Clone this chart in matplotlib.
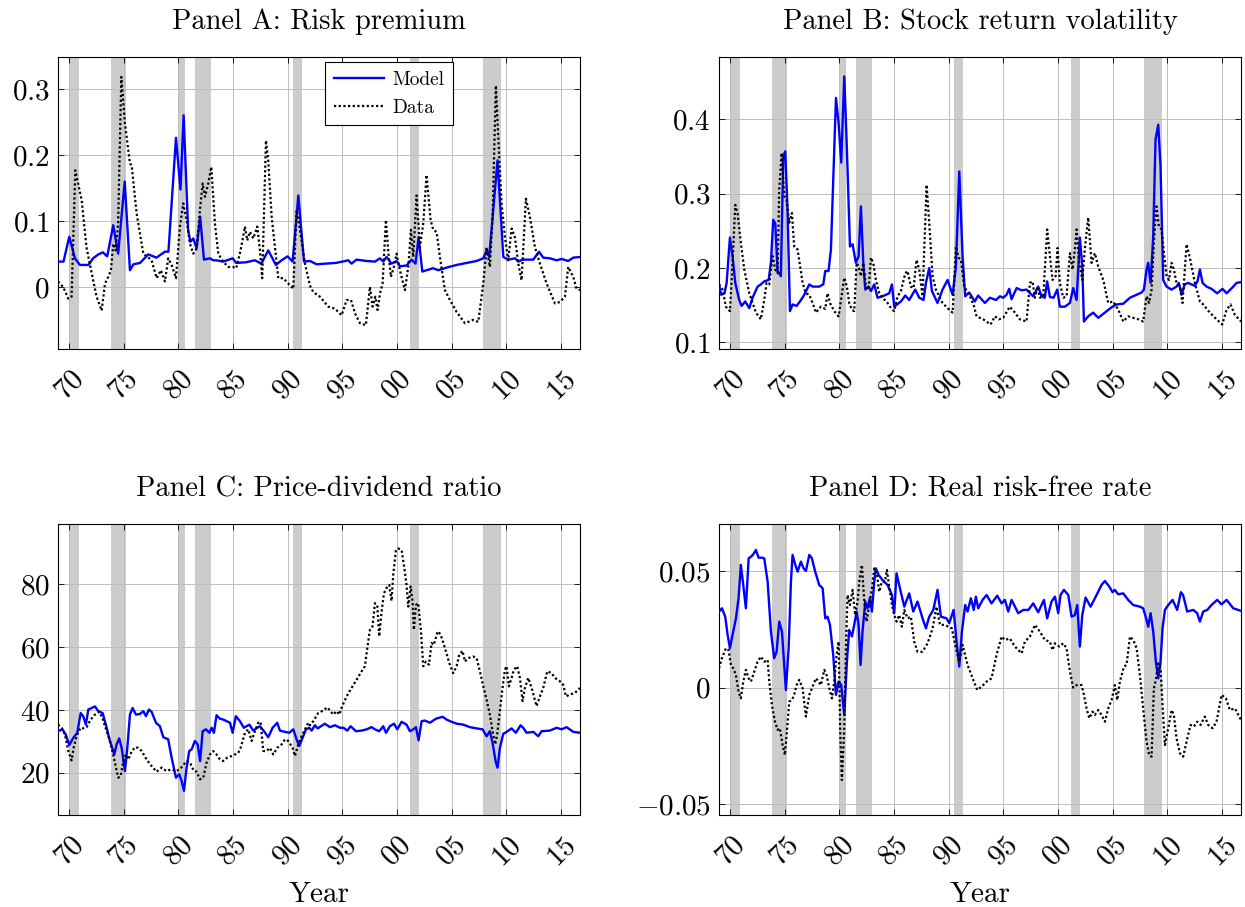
import numpy as np
import matplotlib
matplotlib.use("Agg")
import matplotlib.pyplot as plt

plt.rcParams['font.family'] = 'cmr10'
plt.rcParams['mathtext.fontset'] = 'cm'
plt.rcParams['axes.formatter.use_mathtext'] = True

# NBER recession periods (start, end)
recessions = [(1970.0, 1970.9), (1973.85, 1975.25), (1980.0, 1980.6),
              (1981.5, 1983.0), (1990.5, 1991.3), (2001.2, 2002.0),
              (2007.9, 2009.5)]

year_ticks = [1970, 1975, 1980, 1985, 1990, 1995, 2000, 2005, 2010, 2015]
year_labels = ['70', '75', '80', '85', '90', '95', '00', '05', '10', '15']

# Panel A: risk premium
rp_model = [(1969.0, 0.039), (1969.5, 0.039), (1970.03, 0.0765), (1970.55, 0.044), (1971.0, 0.034),
            (1971.8, 0.034), (1972.2, 0.044), (1972.7, 0.050), (1973.1, 0.053), (1973.5, 0.047),
            (1974.05, 0.094), (1974.5, 0.051), (1975.1, 0.160), (1975.58, 0.026), (1975.9, 0.035),
            (1976.5, 0.037), (1977.26, 0.050), (1978.0, 0.045), (1978.78, 0.054), (1979.1, 0.054),
            (1979.79, 0.226), (1980.2, 0.148), (1980.49, 0.260), (1980.9, 0.087), (1981.1, 0.069),
            (1981.37, 0.074), (1981.68, 0.059), (1982.0, 0.107), (1982.35, 0.042), (1982.9, 0.044),
            (1983.2, 0.041), (1983.5, 0.041), (1984.1, 0.039), (1984.97, 0.044), (1985.3, 0.037),
            (1986.2, 0.038), (1987.0, 0.041), (1987.6, 0.036), (1988.23, 0.056), (1988.93, 0.034),
            (1989.45, 0.041), (1990.0, 0.047), (1990.46, 0.039), (1990.98, 0.139), (1991.5, 0.039),
            (1992.04, 0.040), (1992.65, 0.035), (1993.5, 0.036), (1994.4, 0.037), (1995.0, 0.039),
            (1995.55, 0.041), (1995.85, 0.036), (1996.3, 0.042), (1997.2, 0.040), (1998.0, 0.039),
            (1998.45, 0.044), (1998.75, 0.039), (1999.05, 0.046), (1999.5, 0.036), (1999.97, 0.040),
            (2000.27, 0.032), (2000.88, 0.033), (2001.34, 0.042), (2001.7, 0.036), (2001.98, 0.076),
            (2002.32, 0.024), (2002.7, 0.026), (2003.3, 0.029), (2003.8, 0.026), (2004.55, 0.030),
            (2005.46, 0.034), (2006.37, 0.037), (2007.29, 0.040), (2007.9, 0.044), (2008.2, 0.056),
            (2008.44, 0.046), (2009.2, 0.192), (2009.73, 0.046), (2010.18, 0.042), (2010.8, 0.044),
            (2011.1, 0.039), (2011.5, 0.042), (2012.47, 0.042), (2013.0, 0.054), (2013.38, 0.045),
            (2014.0, 0.044), (2014.6, 0.041), (2015.06, 0.043), (2015.67, 0.040), (2016.13, 0.045),
            (2016.75, 0.046)]
rp_data = [(1969.0, 0.009), (1969.5, 0.0), (1969.94, -0.017), (1970.24, -0.014), (1970.58, 0.177),
           (1971.16, 0.132), (1971.6, 0.061), (1971.9, 0.036), (1972.53, -0.014), (1972.99, -0.035),
           (1973.3, 0.006), (1973.6, 0.016), (1973.84, 0.026), (1974.05, 0.066), (1974.27, 0.056),
           (1974.5, 0.097), (1974.79, 0.318), (1975.12, 0.248), (1975.58, 0.187), (1975.73, 0.185),
           (1976.19, 0.112), (1976.8, 0.051), (1977.35, 0.044), (1977.56, 0.041), (1978.02, 0.014),
           (1978.41, 0.026), (1978.78, 0.009), (1979.08, 0.044), (1979.39, 0.034), (1979.79, 0.014),
           (1980.15, 0.092), (1980.46, 0.127), (1980.76, 0.102), (1981.07, 0.066), (1981.37, 0.051),
           (1981.68, 0.059), (1981.98, 0.117), (1982.23, 0.157), (1982.44, 0.137), (1982.74, 0.157),
           (1983.02, 0.182), (1983.35, 0.097), (1983.66, 0.051), (1984.1, 0.039), (1984.57, 0.031),
           (1984.97, 0.031), (1985.3, 0.029), (1985.7, 0.056), (1986.1, 0.092), (1986.31, 0.071),
           (1986.55, 0.084), (1986.86, 0.074), (1987.23, 0.092), (1987.47, 0.056), (1987.68, 0.014),
           (1988.02, 0.222), (1988.23, 0.192), (1988.54, 0.107), (1989.15, 0.014), (1989.6, 0.014),
           (1990.06, 0.006), (1990.52, -0.002), (1990.82, 0.117), (1991.13, 0.087), (1991.59, 0.036),
           (1992.04, 0.003), (1992.35, -0.007), (1992.96, -0.014), (1993.72, -0.029), (1994.33, -0.032),
           (1994.94, -0.042), (1995.4, -0.019), (1995.8, -0.019), (1996.16, -0.039), (1996.62, -0.054),
           (1997.16, -0.057), (1997.53, 0.001), (1997.77, -0.029), (1998.02, -0.014), (1998.23, -0.034),
           (1998.45, -0.009), (1998.69, 0.006), (1998.99, 0.102), (1999.2, 0.056), (1999.45, 0.016),
           (1999.72, 0.031), (1999.97, 0.051), (2000.27, 0.026), (2000.73, -0.004), (2001.04, 0.031),
           (2001.28, 0.087), (2001.49, 0.046), (2001.8, 0.139), (2002.1, 0.061), (2002.41, 0.097),
           (2002.71, 0.170), (2003.08, 0.102), (2003.32, 0.087), (2003.63, 0.084), (2003.93, 0.046),
           (2004.39, -0.004), (2004.85, -0.019), (2005.46, -0.037), (2006.22, -0.054), (2006.98, -0.049),
           (2007.44, -0.052), (2007.9, 0.006), (2008.2, 0.061), (2008.5, 0.031), (2008.75, 0.107),
           (2009.05, 0.305), (2009.27, 0.227), (2009.57, 0.127), (2009.88, 0.076), (2010.18, 0.041),
           (2010.49, 0.089), (2010.79, 0.076), (2011.1, 0.036), (2011.4, 0.011), (2011.8, 0.134),
           (2012.16, 0.107), (2012.62, 0.061), (2013.08, 0.036), (2013.69, 0.006), (2014.45, -0.024),
           (2014.91, -0.022), (2015.37, -0.014), (2015.67, 0.031), (2016.13, 0.016), (2016.43, -0.002),
           (2016.75, -0.004)]

# Panel B: stock return volatility
vol_model = [(1969.0, 0.178), (1969.2, 0.164), (1969.5, 0.166), (1969.7, 0.180), (1970.0, 0.241),
             (1970.24, 0.216), (1970.49, 0.180), (1970.85, 0.157), (1971.07, 0.149), (1971.4, 0.155),
             (1971.77, 0.146), (1972.07, 0.160), (1972.53, 0.175), (1972.83, 0.178), (1973.14, 0.182),
             (1973.54, 0.184), (1973.75, 0.207), (1973.96, 0.265), (1974.15, 0.260), (1974.36, 0.196),
             (1974.66, 0.189), (1974.88, 0.351), (1975.06, 0.357), (1975.27, 0.279), (1975.49, 0.142),
             (1975.73, 0.151), (1976.1, 0.149), (1976.5, 0.157), (1976.8, 0.164), (1977.26, 0.178),
             (1977.56, 0.175), (1978.17, 0.175), (1978.54, 0.178), (1978.72, 0.196), (1979.02, 0.196),
             (1979.24, 0.225), (1979.7, 0.429), (1979.94, 0.395), (1980.18, 0.342), (1980.46, 0.458),
             (1980.7, 0.360), (1980.98, 0.229), (1981.22, 0.232), (1981.52, 0.207), (1981.77, 0.216),
             (1981.98, 0.283), (1982.2, 0.207), (1982.38, 0.171), (1982.68, 0.175), (1982.9, 0.169),
             (1983.2, 0.178), (1983.5, 0.160), (1983.96, 0.162), (1984.57, 0.166), (1984.82, 0.178),
             (1985.03, 0.148), (1985.64, 0.155), (1986.04, 0.163), (1986.4, 0.157), (1986.95, 0.171),
             (1987.32, 0.160), (1987.71, 0.157), (1987.93, 0.180), (1988.23, 0.200), (1988.48, 0.169),
             (1988.99, 0.153), (1989.45, 0.171), (1989.91, 0.184), (1990.37, 0.164), (1990.67, 0.202),
             (1990.98, 0.330), (1991.28, 0.216), (1991.52, 0.162), (1991.89, 0.167), (1992.4, 0.155),
             (1992.7, 0.163), (1993.32, 0.153), (1993.78, 0.160), (1994.33, 0.157), (1994.7, 0.162),
             (1995.0, 0.160), (1995.3, 0.164), (1995.55, 0.172), (1995.76, 0.158), (1996.22, 0.173),
             (1996.68, 0.170), (1997.13, 0.171), (1997.74, 0.162), (1998.2, 0.175), (1998.5, 0.162),
             (1998.8, 0.160), (1999.02, 0.182), (1999.27, 0.161), (1999.6, 0.160), (1999.94, 0.171),
             (2000.18, 0.148), (2000.64, 0.148), (2001.1, 0.153), (2001.4, 0.173), (2001.71, 0.157),
             (2002.01, 0.241), (2002.23, 0.202), (2002.38, 0.128), (2002.77, 0.135), (2003.23, 0.140),
             (2003.69, 0.133), (2004.3, 0.140), (2004.9, 0.147), (2005.37, 0.151), (2005.98, 0.152),
             (2006.59, 0.160), (2007.2, 0.164), (2007.65, 0.167), (2007.87, 0.171), (2008.11, 0.198),
             (2008.26, 0.207), (2008.48, 0.180), (2008.72, 0.243), (2008.93, 0.373), (2009.18, 0.393),
             (2009.39, 0.337), (2009.63, 0.184), (2009.94, 0.175), (2010.4, 0.171), (2010.85, 0.175),
             (2011.07, 0.180), (2011.31, 0.164), (2011.6, 0.178), (2011.9, 0.180), (2012.53, 0.176),
             (2012.77, 0.182), (2012.99, 0.198), (2013.23, 0.180), (2013.6, 0.175), (2014.05, 0.172),
             (2014.57, 0.166), (2015.06, 0.172), (2015.43, 0.166), (2016.04, 0.175), (2016.34, 0.180),
             (2016.75, 0.181)]
vol_data = [(1969.0, 0.178), (1969.33, 0.171), (1969.63, 0.148), (1970.0, 0.142), (1970.24, 0.207),
            (1970.49, 0.285), (1970.7, 0.274), (1971.0, 0.234), (1971.31, 0.198), (1971.77, 0.166),
            (1972.38, 0.140), (1972.83, 0.131), (1973.14, 0.157), (1973.35, 0.180), (1973.6, 0.178),
            (1973.9, 0.216), (1974.15, 0.198), (1974.36, 0.193), (1974.51, 0.306), (1974.73, 0.355),
            (1974.97, 0.297), (1975.18, 0.292), (1975.43, 0.261), (1975.67, 0.274), (1975.88, 0.229),
            (1976.19, 0.225), (1976.65, 0.180), (1976.95, 0.166), (1977.26, 0.164), (1977.56, 0.153),
            (1977.87, 0.140), (1978.32, 0.148), (1978.72, 0.145), (1978.93, 0.166), (1979.15, 0.153),
            (1979.54, 0.142), (1979.94, 0.135), (1980.21, 0.162), (1980.46, 0.187), (1980.7, 0.175),
            (1980.91, 0.153), (1981.16, 0.144), (1981.37, 0.142), (1981.59, 0.207), (1981.77, 0.202),
            (1981.98, 0.189), (1982.2, 0.207), (1982.44, 0.175), (1982.68, 0.171), (1982.9, 0.214),
            (1983.11, 0.207), (1983.35, 0.184), (1983.66, 0.166), (1983.96, 0.160), (1984.42, 0.153),
            (1984.73, 0.146), (1985.03, 0.142), (1985.34, 0.162), (1985.64, 0.169), (1986.04, 0.193),
            (1986.25, 0.196), (1986.55, 0.175), (1986.8, 0.173), (1987.07, 0.211), (1987.32, 0.198),
            (1987.62, 0.162), (1987.99, 0.312), (1988.23, 0.261), (1988.54, 0.189), (1988.84, 0.171),
            (1989.45, 0.153), (1989.91, 0.146), (1990.37, 0.140), (1990.67, 0.229), (1990.91, 0.214),
            (1991.13, 0.211), (1991.43, 0.175), (1991.89, 0.164), (1992.3, 0.150), (1992.56, 0.135),
            (1993.17, 0.131), (1993.84, 0.124), (1994.24, 0.135), (1994.6, 0.131), (1995.0, 0.133),
            (1995.6, 0.148), (1996.07, 0.140), (1996.52, 0.131), (1997.13, 0.128), (1997.44, 0.180),
            (1997.68, 0.182), (1997.9, 0.160), (1998.14, 0.175), (1998.35, 0.160), (1998.66, 0.162),
            (1999.02, 0.252), (1999.27, 0.216), (1999.51, 0.184), (1999.79, 0.189), (1999.97, 0.227),
            (2000.18, 0.180), (2000.49, 0.160), (2000.79, 0.162), (2001.1, 0.220), (2001.34, 0.198),
            (2001.55, 0.225), (2001.71, 0.252), (2001.95, 0.207), (2002.23, 0.184), (2002.47, 0.227),
            (2002.77, 0.268), (2003.08, 0.207), (2003.38, 0.220), (2003.69, 0.202), (2004.15, 0.184),
            (2004.6, 0.153), (2005.06, 0.155), (2005.52, 0.144), (2005.98, 0.128), (2006.43, 0.135),
            (2006.89, 0.133), (2007.35, 0.131), (2007.8, 0.128), (2008.11, 0.162), (2008.33, 0.153),
            (2008.57, 0.171), (2008.81, 0.243), (2009.02, 0.283), (2009.24, 0.256), (2009.48, 0.252),
            (2009.73, 0.216), (2009.94, 0.189), (2010.16, 0.184), (2010.4, 0.207), (2010.61, 0.198),
            (2010.85, 0.180), (2011.16, 0.175), (2011.4, 0.153), (2011.77, 0.232), (2012.07, 0.214),
            (2012.53, 0.180), (2012.99, 0.155), (2013.29, 0.151), (2013.9, 0.140), (2014.51, 0.131),
            (2015.03, 0.124), (2015.43, 0.144), (2015.79, 0.151), (2016.19, 0.137), (2016.75, 0.128)]

# Panel C: price-dividend ratio
pd_model = [(1969.0, 33.2), (1969.4, 33.8), (1969.7, 32.2), (1970.03, 28.8), (1970.4, 31.1),
            (1970.76, 32.7), (1971.07, 39.0), (1971.3, 38.0), (1971.55, 35.3), (1971.77, 40.1),
            (1972.07, 40.6), (1972.38, 41.1), (1972.68, 39.6), (1973.08, 39.0), (1973.45, 34.3),
            (1973.75, 30.1), (1974.15, 25.8), (1974.36, 29.0), (1974.6, 30.9), (1974.82, 27.9),
            (1975.12, 20.5), (1975.34, 27.9), (1975.58, 38.5), (1975.82, 40.6), (1976.13, 38.5),
            (1976.5, 38.7), (1976.8, 39.6), (1977.04, 38.0), (1977.32, 40.1), (1977.56, 39.4),
            (1977.96, 35.9), (1978.32, 34.8), (1978.63, 31.3), (1979.08, 30.6), (1979.39, 24.8),
            (1979.79, 18.4), (1980.09, 19.5), (1980.3, 17.4), (1980.52, 14.2), (1980.76, 21.6),
            (1981.0, 26.9), (1981.22, 27.4), (1981.52, 30.1), (1981.77, 29.0), (1982.0, 23.7),
            (1982.23, 33.2), (1982.53, 33.8), (1982.84, 32.7), (1983.05, 34.3), (1983.26, 32.7),
            (1983.5, 38.3), (1983.81, 37.2), (1984.12, 36.9), (1984.42, 36.4), (1984.73, 35.9),
            (1984.97, 32.7), (1985.27, 38.0), (1985.64, 36.4), (1986.0, 34.3), (1986.5, 35.3),
            (1986.86, 33.4), (1987.23, 34.3), (1987.47, 34.8), (1987.84, 33.2), (1988.23, 31.3),
            (1988.63, 34.3), (1989.05, 35.9), (1989.3, 33.4), (1989.76, 33.0), (1990.15, 32.7),
            (1990.52, 33.8), (1990.82, 30.6), (1991.07, 28.5), (1991.37, 31.1), (1991.68, 33.8),
            (1991.98, 34.3), (1992.2, 33.4), (1992.5, 35.1), (1992.75, 34.1), (1993.41, 35.6),
            (1993.87, 34.5), (1994.33, 35.1), (1994.79, 34.3), (1995.1, 34.3), (1995.46, 33.4),
            (1995.76, 34.8), (1996.25, 33.2), (1996.77, 33.4), (1997.23, 33.8), (1997.68, 34.5),
            (1997.99, 33.8), (1998.38, 33.2), (1998.75, 34.8), (1999.0, 32.7), (1999.36, 34.8),
            (1999.73, 35.6), (2000.03, 33.8), (2000.43, 36.2), (2000.88, 35.3), (2001.19, 33.2),
            (2001.5, 33.8), (2001.74, 34.5), (2001.98, 30.3), (2002.26, 36.4), (2002.56, 36.6),
            (2003.02, 35.9), (2003.57, 37.2), (2004.18, 37.8), (2004.54, 36.9), (2005.0, 36.2),
            (2005.46, 35.6), (2006.07, 35.3), (2006.68, 34.5), (2007.29, 34.1), (2007.84, 33.8),
            (2008.2, 31.6), (2008.5, 33.2), (2008.75, 29.5), (2009.02, 23.7), (2009.2, 21.6),
            (2009.42, 27.9), (2009.73, 32.4), (2010.03, 33.0), (2010.49, 34.1), (2010.88, 32.7),
            (2011.31, 35.1), (2011.55, 34.3), (2011.86, 32.7), (2012.47, 33.0), (2012.93, 31.6),
            (2013.23, 33.2), (2013.99, 33.4), (2014.6, 34.3), (2015.06, 33.8), (2015.52, 34.5),
            (2016.13, 33.0), (2016.75, 32.7)]
pd_data = [(1969.0, 35.3), (1969.33, 34.3), (1969.63, 32.2), (1969.94, 26.9), (1970.24, 23.9),
           (1970.46, 28.5), (1970.76, 32.2), (1971.07, 34.3), (1971.3, 34.1), (1971.62, 34.5),
           (1971.98, 36.9), (1972.38, 38.5), (1972.77, 39.4), (1973.08, 37.2), (1973.45, 33.2),
           (1973.75, 30.1), (1974.05, 25.8), (1974.3, 21.6), (1974.51, 18.4), (1974.73, 18.9),
           (1974.97, 23.7), (1975.21, 25.8), (1975.43, 24.2), (1975.73, 26.7), (1976.04, 28.1),
           (1976.34, 27.9), (1976.65, 26.9), (1977.1, 24.2), (1977.56, 22.1), (1978.02, 20.3),
           (1978.48, 21.6), (1978.93, 20.5), (1979.39, 21.1), (1979.79, 20.5), (1980.15, 21.1),
           (1980.46, 22.4), (1980.76, 23.7), (1981.07, 23.2), (1981.43, 20.5), (1981.68, 20.3),
           (1981.98, 17.9), (1982.29, 18.4), (1982.59, 23.2), (1982.9, 25.8), (1983.2, 26.9),
           (1983.5, 25.8), (1983.81, 24.2), (1984.12, 23.7), (1984.48, 24.8), (1984.88, 25.3),
           (1985.18, 25.8), (1985.49, 26.3), (1985.7, 27.9), (1986.1, 32.7), (1986.4, 33.8),
           (1986.71, 30.1), (1987.01, 33.2), (1987.32, 35.9), (1987.53, 36.2), (1987.77, 26.9),
           (1988.08, 26.9), (1988.38, 27.9), (1988.69, 25.8), (1989.05, 27.9), (1989.45, 29.0),
           (1989.76, 30.6), (1990.06, 30.1), (1990.46, 27.9), (1990.67, 25.3), (1990.98, 29.0),
           (1991.28, 31.6), (1991.59, 33.8), (1991.89, 35.9), (1992.04, 35.1), (1992.35, 36.4),
           (1992.8, 39.0), (1993.26, 39.8), (1993.63, 40.8), (1993.93, 39.6), (1994.18, 38.5),
           (1994.48, 39.6), (1994.73, 38.5), (1995.0, 41.2), (1995.4, 44.3), (1995.85, 47.0),
           (1996.31, 49.6), (1996.77, 52.3), (1997.07, 53.9), (1997.29, 59.7), (1997.53, 65.5),
           (1997.77, 66.6), (1997.99, 74.0), (1998.2, 73.4), (1998.38, 63.4), (1998.6, 71.3),
           (1998.81, 77.1), (1999.12, 79.3), (1999.3, 79.8), (1999.51, 74.7), (1999.66, 83.0),
           (1999.91, 90.9), (2000.12, 91.4), (2000.43, 90.9), (2000.64, 86.1), (2000.88, 79.8),
           (2001.04, 72.9), (2001.25, 79.3), (2001.43, 74.5), (2001.55, 65.5), (2001.74, 73.4),
           (2001.95, 74.0), (2002.2, 65.0), (2002.41, 53.9), (2002.65, 55.4), (2002.93, 54.4),
           (2003.17, 61.3), (2003.38, 60.7), (2003.72, 65.0), (2003.99, 64.1), (2004.39, 59.7),
           (2004.79, 54.9), (2005.15, 51.7), (2005.46, 53.9), (2005.7, 57.6), (2006.0, 58.8),
           (2006.22, 55.4), (2006.52, 56.5), (2006.98, 57.0), (2007.29, 56.5), (2007.59, 52.3),
           (2007.9, 47.5), (2008.2, 43.3), (2008.5, 38.5), (2008.75, 33.2), (2008.99, 29.0),
           (2009.17, 32.2), (2009.42, 39.6), (2009.66, 47.0), (2009.88, 52.8), (2010.03, 53.9),
           (2010.24, 47.5), (2010.49, 50.2), (2010.7, 52.8), (2011.0, 53.9), (2011.25, 50.2),
           (2011.49, 42.8), (2011.71, 47.0), (2012.01, 50.2), (2012.32, 47.0), (2012.53, 44.3),
           (2012.77, 41.2), (2013.08, 44.3), (2013.38, 47.0), (2013.75, 52.3), (2014.15, 51.7),
           (2014.45, 50.2), (2014.91, 49.1), (2015.21, 48.0), (2015.46, 44.3), (2015.82, 44.9),
           (2016.28, 45.4), (2016.75, 47.0)]

# Panel D: real risk-free rate
rf_model = [(1969.0, 0.0326), (1969.27, 0.0340), (1969.57, 0.0304), (1969.79, 0.0226), (1970.0, 0.0169),
            (1970.24, 0.0226), (1970.55, 0.0297), (1970.79, 0.0383), (1971.0, 0.0526), (1971.22, 0.0440),
            (1971.46, 0.0340), (1971.71, 0.0554), (1971.92, 0.0561), (1972.13, 0.0571), (1972.38, 0.0590),
            (1972.62, 0.0557), (1972.93, 0.0557), (1973.14, 0.0554), (1973.45, 0.0454), (1973.75, 0.0240),
            (1974.05, 0.0126), (1974.27, 0.0154), (1974.51, 0.0283), (1974.76, 0.0240), (1974.97, 0.0097),
            (1975.12, -0.0010), (1975.37, 0.0169), (1975.58, 0.0454), (1975.73, 0.0569), (1975.98, 0.0526),
            (1976.19, 0.0497), (1976.49, 0.0540), (1976.74, 0.0511), (1976.95, 0.0500), (1977.26, 0.0569),
            (1977.5, 0.0554), (1977.8, 0.0497), (1978.17, 0.0440), (1978.48, 0.0426), (1978.72, 0.0297),
            (1978.93, 0.0304), (1979.15, 0.0269), (1979.45, 0.0140), (1979.7, -0.0031), (1979.94, 0.0026),
            (1980.18, 0.0011), (1980.46, -0.0117), (1980.7, 0.0111), (1980.91, 0.0247), (1981.16, 0.0219),
            (1981.37, 0.0269), (1981.59, 0.0326), (1981.77, 0.0269), (1981.95, 0.0097), (1982.13, 0.0240),
            (1982.38, 0.0369), (1982.59, 0.0340), (1982.8, 0.0383), (1982.99, 0.0326), (1983.2, 0.0454),
            (1983.35, 0.0511), (1983.6, 0.0483), (1983.96, 0.0461), (1984.42, 0.0440), (1984.82, 0.0397),
            (1985.03, 0.0319), (1985.24, 0.0490), (1985.55, 0.0426), (1985.95, 0.0347), (1986.4, 0.0404),
            (1986.77, 0.0326), (1987.16, 0.0369), (1987.62, 0.0297), (1987.93, 0.0254), (1988.23, 0.0304),
            (1988.6, 0.0333), (1988.99, 0.0419), (1989.3, 0.0304), (1989.82, 0.0297), (1990.06, 0.0276),
            (1990.46, 0.0333), (1990.73, 0.0197), (1990.98, 0.0090), (1991.22, 0.0240), (1991.52, 0.0354),
            (1991.74, 0.0326), (1992.04, 0.0383), (1992.3, 0.0333), (1992.5, 0.0390), (1992.71, 0.0340),
            (1993.11, 0.0376), (1993.48, 0.0397), (1993.93, 0.0361), (1994.45, 0.0394), (1994.85, 0.0361),
            (1995.15, 0.0376), (1995.46, 0.0326), (1995.76, 0.0376), (1996.0, 0.0354), (1996.37, 0.0319),
            (1996.83, 0.0333), (1997.3, 0.0333), (1997.74, 0.0361), (1998.2, 0.0323), (1998.72, 0.0376),
            (1999.02, 0.0297), (1999.42, 0.0369), (1999.73, 0.0390), (2000.03, 0.0319), (2000.24, 0.0397),
            (2000.55, 0.0419), (2000.95, 0.0397), (2001.25, 0.0304), (2001.55, 0.0311), (2001.77, 0.0354),
            (2002.01, 0.0176), (2002.23, 0.0311), (2002.53, 0.0386), (2002.99, 0.0347), (2003.54, 0.0397),
            (2003.99, 0.0440), (2004.3, 0.0457), (2004.7, 0.0433), (2005.0, 0.0409), (2005.2, 0.0419),
            (2005.52, 0.0400), (2005.98, 0.0404), (2006.43, 0.0376), (2006.89, 0.0354), (2007.5, 0.0347),
            (2007.8, 0.0340), (2008.11, 0.0290), (2008.26, 0.0261), (2008.48, 0.0319), (2008.72, 0.0240),
            (2008.96, 0.0111), (2009.18, 0.0040), (2009.39, 0.0111), (2009.57, 0.0254), (2009.79, 0.0333),
            (2010.09, 0.0354), (2010.49, 0.0376), (2010.91, 0.0333), (2011.25, 0.0409), (2011.45, 0.0397),
            (2011.83, 0.0326), (2012.38, 0.0333), (2012.74, 0.0319), (2012.99, 0.0283), (2013.29, 0.0326),
            (2013.66, 0.0333), (2014.05, 0.0354), (2014.57, 0.0376), (2014.97, 0.0357), (2015.43, 0.0376),
            (2016.04, 0.0340), (2016.75, 0.0329)]
rf_data = [(1969.0, 0.0083), (1969.27, 0.0126), (1969.63, 0.0169), (1969.88, 0.0161), (1970.09, 0.0097),
           (1970.3, 0.0083), (1970.55, 0.0054), (1970.79, -0.0017), (1971.0, -0.0046), (1971.22, 0.0026),
           (1971.46, 0.0076), (1971.71, 0.0040), (1971.92, 0.0026), (1972.23, 0.0069), (1972.53, 0.0111),
           (1972.83, 0.0133), (1973.14, 0.0111), (1973.45, 0.0119), (1973.6, 0.0026), (1973.84, -0.0074),
           (1974.12, -0.0146), (1974.36, -0.0181), (1974.57, -0.0174), (1974.82, -0.0246), (1975.03, -0.0289),
           (1975.21, -0.0189), (1975.43, -0.0060), (1975.67, -0.0053), (1975.88, -0.0031), (1976.1, 0.0011),
           (1976.34, 0.0033), (1976.65, -0.0003), (1976.95, -0.0124), (1977.26, -0.0031), (1977.56, 0.0004),
           (1977.87, 0.0040), (1978.11, 0.0026), (1978.32, 0.0011), (1978.63, 0.0076), (1978.84, 0.0054),
           (1979.09, -0.0003), (1979.33, -0.0046), (1979.54, 0.0026), (1979.76, 0.0140), (1979.94, 0.0197),
           (1980.09, -0.0189), (1980.24, -0.0396), (1980.46, -0.0174), (1980.61, 0.0169), (1980.76, 0.0397),
           (1980.98, 0.0354), (1981.22, 0.0419), (1981.46, 0.0311), (1981.68, 0.0369), (1981.83, 0.0454),
           (1982.07, 0.0526), (1982.29, 0.0369), (1982.5, 0.0283), (1982.74, 0.0354), (1982.99, 0.0426),
           (1983.2, 0.0511), (1983.44, 0.0490), (1983.66, 0.0411), (1983.9, 0.0454), (1984.18, 0.0454),
           (1984.36, 0.0504), (1984.57, 0.0433), (1984.82, 0.0354), (1985.03, 0.0311), (1985.24, 0.0283),
           (1985.49, 0.0311), (1985.73, 0.0261), (1985.95, 0.0333), (1986.25, 0.0297), (1986.55, 0.0304),
           (1986.86, 0.0197), (1987.16, 0.0154), (1987.62, 0.0154), (1988.08, 0.0190), (1988.54, 0.0254),
           (1988.9, 0.0347), (1989.21, 0.0269), (1989.6, 0.0269), (1990.0, 0.0261), (1990.3, 0.0254),
           (1990.67, 0.0169), (1990.98, 0.0111), (1991.28, 0.0183), (1991.74, 0.0097), (1992.2, 0.0040),
           (1992.62, -0.0010), (1993.02, 0.0004), (1993.48, 0.0026), (1993.93, 0.0040), (1994.39, 0.0140),
           (1994.85, 0.0219), (1995.15, 0.0204), (1995.6, 0.0211), (1996.07, 0.0176), (1996.68, 0.0147),
           (1996.98, 0.0197), (1997.44, 0.0219), (1997.9, 0.0269), (1998.35, 0.0240), (1998.81, 0.0204),
           (1999.27, 0.0197), (1999.51, 0.0161), (1999.73, 0.0190), (2000.12, 0.0176), (2000.49, 0.0190),
           (2000.79, 0.0169), (2001.1, 0.0069), (2001.4, 0.0000), (2001.71, 0.0011), (2002.16, 0.0011),
           (2002.38, -0.0031), (2002.62, -0.0089), (2002.87, -0.0131), (2003.17, -0.0103), (2003.38, -0.0117),
           (2003.69, -0.0096), (2003.99, -0.0117), (2004.3, -0.0146), (2004.6, -0.0089), (2004.91, -0.0053),
           (2005.21, 0.0011), (2005.43, -0.0053), (2005.67, 0.0026), (2006.04, 0.0090), (2006.28, 0.0097),
           (2006.59, 0.0219), (2006.89, 0.0204), (2007.2, 0.0169), (2007.5, 0.0054), (2007.8, -0.0089),
           (2008.11, -0.0231), (2008.35, -0.0289), (2008.57, -0.0296), (2008.78, -0.0003), (2008.96, 0.0033),
           (2009.18, 0.0104), (2009.39, 0.0083), (2009.57, -0.0074), (2009.79, -0.0246), (2010.09, -0.0174),
           (2010.4, -0.0096), (2010.61, -0.0117), (2010.85, -0.0217), (2011.16, -0.0281), (2011.46, -0.0296),
           (2011.77, -0.0231), (2012.13, -0.0160), (2012.44, -0.0167), (2012.74, -0.0146), (2013.05, -0.0160),
           (2013.44, -0.0124), (2013.75, -0.0160), (2014.15, -0.0174), (2014.51, -0.0146), (2014.97, -0.0031),
           (2015.37, -0.0046), (2015.73, -0.0096), (2016.19, -0.0089), (2016.75, -0.0139)]

panels = [
    ('Panel A: Risk premium', rp_model, rp_data, (-0.093, 0.348),
     [0, 0.1, 0.2, 0.3], ['$0$', '$0.1$', '$0.2$', '$0.3$']),
    ('Panel B: Stock return volatility', vol_model, vol_data, (0.091, 0.484),
     [0.1, 0.2, 0.3, 0.4], ['$0.1$', '$0.2$', '$0.3$', '$0.4$']),
    ('Panel C: Price-dividend ratio', pd_model, pd_data, (6.5, 99.2),
     [20, 40, 60, 80], ['$20$', '$40$', '$60$', '$80$']),
    ('Panel D: Real risk-free rate', rf_model, rf_data, (-0.0546, 0.0701),
     [-0.05, 0, 0.05], ['$-0.05$', '$0$', '$0.05$']),
]

positions = [[0.0466, 0.6152, 0.4193, 0.3219], [0.5775, 0.6152, 0.4193, 0.3219],
             [0.0466, 0.1014, 0.4193, 0.3208], [0.5775, 0.1014, 0.4193, 0.3208]]

fig = plt.figure(figsize=(12.45, 9.07), dpi=100)

for i, (title, model, data, ylim, yt, ytl) in enumerate(panels):
    ax = fig.add_axes(positions[i])
    for start, end in recessions:
        ax.axvspan(start, end, color='#cccccc', lw=0, zorder=1)
    m = np.array(model)
    d = np.array(data)
    ax.plot(m[:, 0], m[:, 1], color='#0000ff', lw=1.7, label='Model', zorder=3)
    ax.plot(d[:, 0], d[:, 1], color='black', lw=1.6, ls=(0, (1, 1.1)), label='Data', zorder=3)

    ax.set_xlim(1969.0, 2016.75)
    ax.set_ylim(*ylim)
    ax.set_xticks(year_ticks)
    ax.set_xticklabels(year_labels, rotation=45, ha='center', va='top')
    ax.set_yticks(yt)
    ax.set_yticklabels(ytl)
    ax.tick_params(direction='in', top=True, right=True, length=4, width=0.6,
                   labelsize=21, colors='black')
    ax.tick_params(axis='x', pad=11)
    ax.tick_params(axis='y', pad=6)
    ax.grid(True, color='#bdbdbd', lw=0.7)
    for s in ax.spines.values():
        s.set_linewidth(0.8)
    ax.set_title(title, fontsize=20.5, pad=20)
    if i >= 2:
        ax.set_xlabel('Year', fontsize=21, labelpad=9)
    if i == 0:
        leg = ax.legend(loc='upper left', bbox_to_anchor=(0.5115, 0.982), fontsize=14,
                        fancybox=False, edgecolor='black', framealpha=1,
                        handlelength=2.6, handletextpad=0.4, borderpad=0.45,
                        labelspacing=0.5, borderaxespad=0)
        leg.get_frame().set_linewidth(0.8)

fig.savefig('out.png', dpi=100)
